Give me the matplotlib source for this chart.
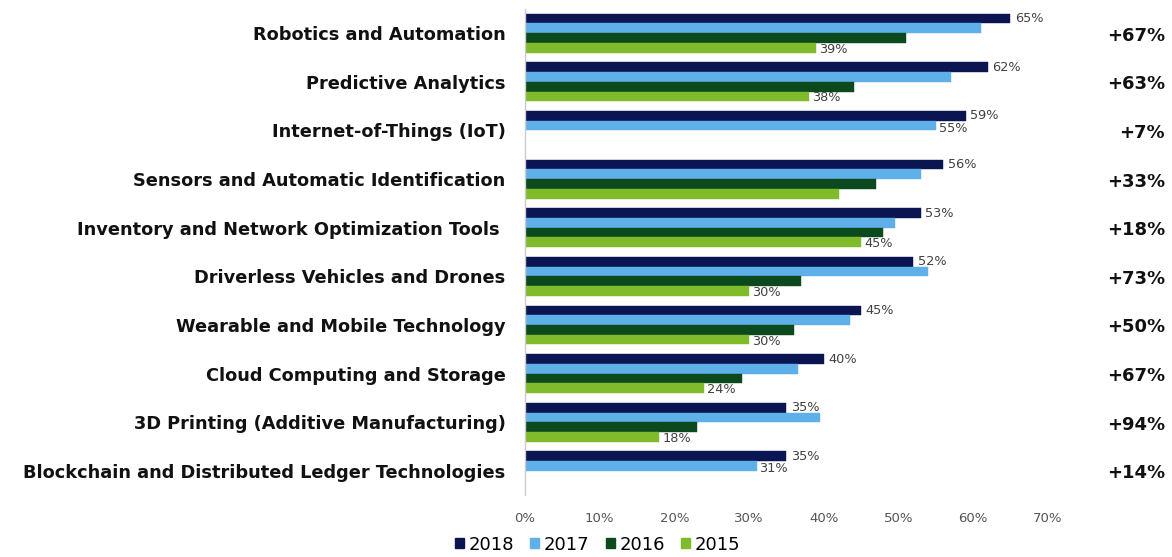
#!/usr/bin/env python3
import numpy as np
import matplotlib.pyplot as plt
from matplotlib.patches import Patch
from matplotlib.transforms import blended_transform_factory

plt.rcParams['font.family'] = ['DejaVu Sans']

categories = [
    "Robotics and Automation",
    "Predictive Analytics",
    "Internet-of-Things (IoT)",
    "Sensors and Automatic Identification",
    "Inventory and Network Optimization Tools ",
    "Driverless Vehicles and Drones",
    "Wearable and Mobile Technology",
    "Cloud Computing and Storage",
    "3D Printing (Additive Manufacturing)",
    "Blockchain and Distributed Ledger Technologies",
]
years = ["2018", "2017", "2016", "2015"]
v2018 = [65, 62, 59, 56, 53, 52, 45, 40, 35, 35]
v2017 = [61, 57, 55, 53, 49.5, 54, 43.5, 36.5, 39.5, 31]
v2016 = [51, 44, np.nan, 47, 48, 37, 36, 29, 23, np.nan]
v2015 = [39, 38, np.nan, 42, 45, 30, 30, 24, 18, np.nan]
growth = ["+67%", "+63%", "+7%", "+33%", "+18%", "+73%", "+50%", "+67%", "+94%", "+14%"]

# which bars get a value label
show_2017 = [False, False, True, False, False, False, False, False, False, True]
show_2015 = [True, True, False, False, True, True, True, True, True, False]

colors = ["#0b1552", "#5fb0e8", "#0c4a1e", "#7fbb2a"]
series = [v2018, v2017, v2016, v2015]

fig = plt.figure(figsize=(11.72, 5.57), dpi=100)
ax = fig.add_axes([0.448, 0.111, 0.446, 0.873])

h = 0.2
y = np.arange(len(categories))
for j, vals in enumerate(series):
    ax.barh(y + (j - 1.5) * h, vals, height=h, color=colors[j],
            edgecolor=colors[j], linewidth=0.3, label=years[j])

ax.set_xlim(0, 70)
ax.set_ylim(len(categories) - 0.5, -0.5)

# growth column on the far right: figure x, data y
right_tr = blended_transform_factory(fig.transFigure, ax.transData)

label_kw = dict(fontsize=9.3, color="#404040", va="center", ha="left")
for i in range(len(categories)):
    ax.text(v2018[i] + 0.6, y[i] - 1.5 * h, f"{v2018[i]}%", **label_kw)
    if show_2017[i]:
        ax.text(v2017[i] + 0.4, y[i] - 0.5 * h + 0.05, f"{v2017[i]:.0f}%", **label_kw)
    if show_2015[i]:
        ax.text(v2015[i] + 0.4, y[i] + 1.5 * h + 0.03, f"{v2015[i]:.0f}%", **label_kw)
    ax.text(0.994, y[i] + 0.05, growth[i], transform=right_tr, ha="right",
            va="center", fontsize=13, fontweight="bold", color="#111111",
            clip_on=False)

ax.set_xticks(np.arange(0, 71, 10))
ax.set_xticklabels([f"{t}%" for t in range(0, 71, 10)], fontsize=9.5, color="#555555")
ax.set_yticks(y)
ax.set_yticklabels(categories, fontsize=12.8, fontweight="bold", color="#111111")
ax.tick_params(axis="both", length=0)
ax.tick_params(axis="y", pad=14)
ax.tick_params(axis="x", pad=12)
for side in ["top", "right", "bottom"]:
    ax.spines[side].set_visible(False)
ax.spines["left"].set_color("#cccccc")
ax.spines["left"].set_linewidth(1)

handles = [Patch(facecolor=c, edgecolor=c) for c in colors]
fig.legend(handles, years, loc="center", bbox_to_anchor=(0.51, 0.022),
           ncol=4, frameon=False, fontsize=13, handlelength=0.5,
           handleheight=0.5, handletextpad=0.25, columnspacing=0.9)

fig.savefig("out.png", dpi=100)
